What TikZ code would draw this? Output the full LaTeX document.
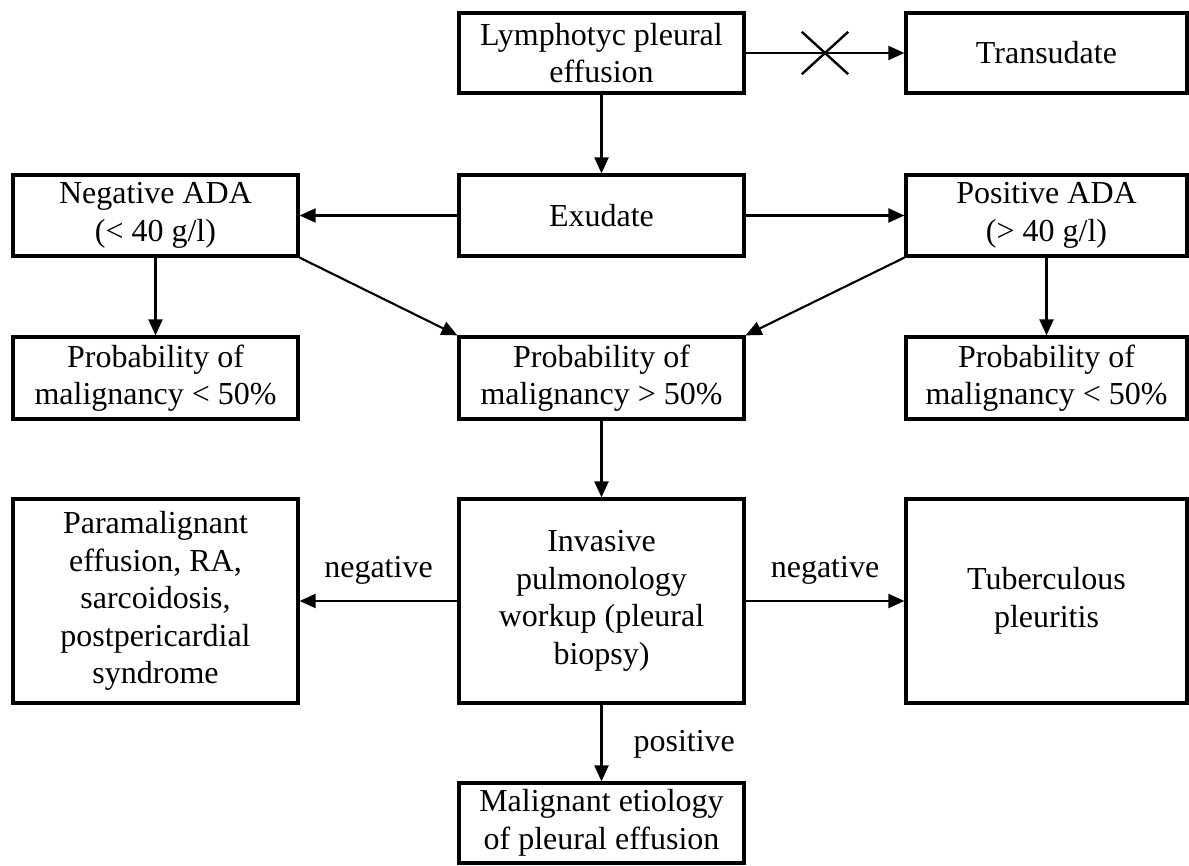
\documentclass[tikz,border=0pt]{standalone}
\usepackage{fontspec}
\setmainfont{Liberation Serif}
\usetikzlibrary{arrows.meta,shapes.misc}
\begin{document}
\begin{tikzpicture}[x=0.5pt,y=-0.5pt,
  box/.style={draw, line width=1.6pt, align=center, inner sep=0pt,
    font=\fontsize{16}{18.8}\selectfont},
  colA/.style={box, minimum width=142.5pt},
  colR/.style={box, minimum width=140.5pt},
  arr/.style={-{Triangle[length=8pt,width=7pt]}, line width=1.05pt},
  lbl/.style={font=\fontsize{16}{18.8}\selectfont, inner sep=0pt}]
\useasboundingbox (0,0) rectangle (1189,866);
% row 1
\node[colA, minimum height=40pt] (lym) at (601.5,53) {Lymphotyc pleural\\effusion};
\node[colR, minimum height=40pt] (trans) at (1046.5,53) {Transudate};
% row 2
\node[colA, minimum height=40.5pt] (neg) at (155.5,215.5) {Negative ADA\\(< 40 g/l)};
\node[colA, minimum height=40.5pt] (exu) at (601.5,215.5) {Exudate};
\node[colR, minimum height=40.5pt] (pos) at (1046.5,215.5) {Positive ADA\\(> 40 g/l)};
% row 3
\node[colA, minimum height=41pt] (pl) at (155.5,378) {Probability of\\malignancy < 50\%};
\node[colA, minimum height=41pt] (pm) at (601.5,378) {Probability of\\malignancy > 50\%};
\node[colR, minimum height=41pt] (pr) at (1046.5,378) {Probability of\\malignancy < 50\%};
% row 4
\node[colA, minimum height=102pt] (para) at (155.5,601) {Paramalignant\\effusion, RA,\\sarcoidosis,\\postpericardial\\syndrome};
\node[colA, minimum height=102pt] (inv) at (601.5,601) {Invasive\\pulmonology\\workup (pleural\\biopsy)};
\node[colR, minimum height=102pt] (tub) at (1046.5,601) {Tuberculous\\pleuritis};
% row 5
\node[colA, minimum height=40pt] (mal) at (601.5,823) {Malignant etiology\\of pleural effusion};
% connectors
\draw[arr] (lym) -- (trans);
\node[cross out, draw, line width=1.2pt, inner sep=0pt, minimum width=22pt, minimum height=20pt] (nx) at (825,53) {};
\draw[arr] (lym) -- (exu);
\draw[arr] (exu) -- (neg);
\draw[arr] (exu) -- (pos);
\draw[arr] (neg) -- (pl);
\draw[arr] (pos) -- (pr);
\draw[arr] (neg.south east) -- (pm.north west);
\draw[arr] (pos.south west) -- (pm.north east);
\draw[arr] (pm) -- (inv);
\draw[arr] (inv) -- node[lbl, midway, anchor=base, yshift=12pt] {negative} (para);
\draw[arr] (inv) -- node[lbl, midway, anchor=base, yshift=12pt] {negative} (tub);
\draw[arr] (inv) -- node[lbl, pos=0.61, anchor=base west, xshift=15.5pt] {positive} (mal);
\end{tikzpicture}
\end{document}
